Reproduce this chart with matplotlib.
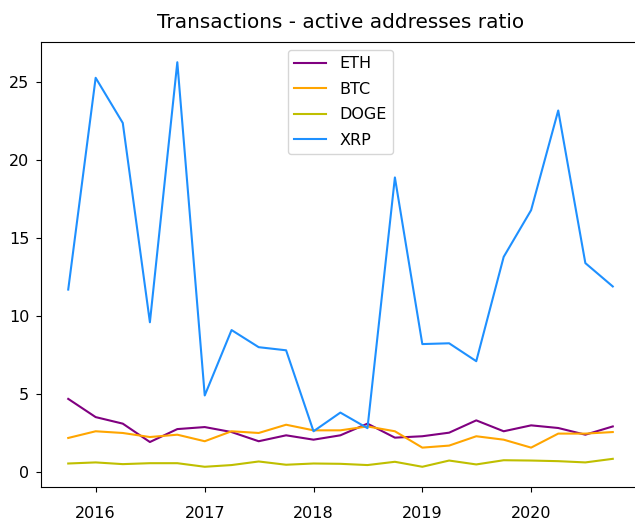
import pandas as pd
import matplotlib
matplotlib.use("Agg")
import matplotlib.pyplot as plt
import matplotlib.dates as mdates

# quarterly observations, Oct 2015 .. Oct 2020
quarters = pd.date_range("2015-10-01", periods=21, freq="QS")

eth = [4.68, 3.51, 3.09, 1.91, 2.74, 2.87, 2.55, 1.96, 2.34, 2.06, 2.34,
       3.09, 2.19, 2.28, 2.51, 3.30, 2.60, 2.98, 2.81, 2.38, 2.91]
btc = [2.17, 2.60, 2.49, 2.23, 2.38, 1.96, 2.60, 2.49, 3.02, 2.66, 2.66,
       2.91, 2.60, 1.55, 1.68, 2.28, 2.06, 1.55, 2.45, 2.45, 2.55]
doge = [0.53, 0.60, 0.49, 0.55, 0.55, 0.32, 0.43, 0.66, 0.45, 0.53, 0.51,
        0.43, 0.64, 0.32, 0.72, 0.47, 0.74, 0.72, 0.68, 0.60, 0.83]
xrp = [11.7, 25.3, 22.4, 9.6, 26.3, 4.9, 9.1, 8.0, 7.8, 2.6, 3.8,
       2.8, 18.9, 8.2, 8.25, 7.1, 13.8, 16.8, 23.2, 13.4, 11.9]

fig = plt.figure(figsize=(6.35, 5.24), dpi=100)
# axes run slightly past the right edge, as in the cropped original
ax = fig.add_axes([41 / 635, 37 / 524, 599 / 635, 445 / 524])

ax.plot(quarters, eth, color="purple", label="ETH")
ax.plot(quarters, btc, color="orange", label="BTC")
ax.plot(quarters, doge, color="y", label="DOGE")
ax.plot(quarters, xrp, color="dodgerblue", label="XRP")

ax.xaxis.set_major_locator(mdates.YearLocator())
ax.xaxis.set_major_formatter(mdates.DateFormatter("%Y"))
ax.tick_params(labelsize=11.5)
ax.tick_params(axis="x", pad=10)
ax.tick_params(axis="y", pad=5)
ax.set_title("Transactions - active addresses ratio", fontsize=14.4, pad=10)
ax.legend(loc="upper center", fontsize=11.5, labelspacing=0.65)

fig.savefig("out.png", dpi=100)
